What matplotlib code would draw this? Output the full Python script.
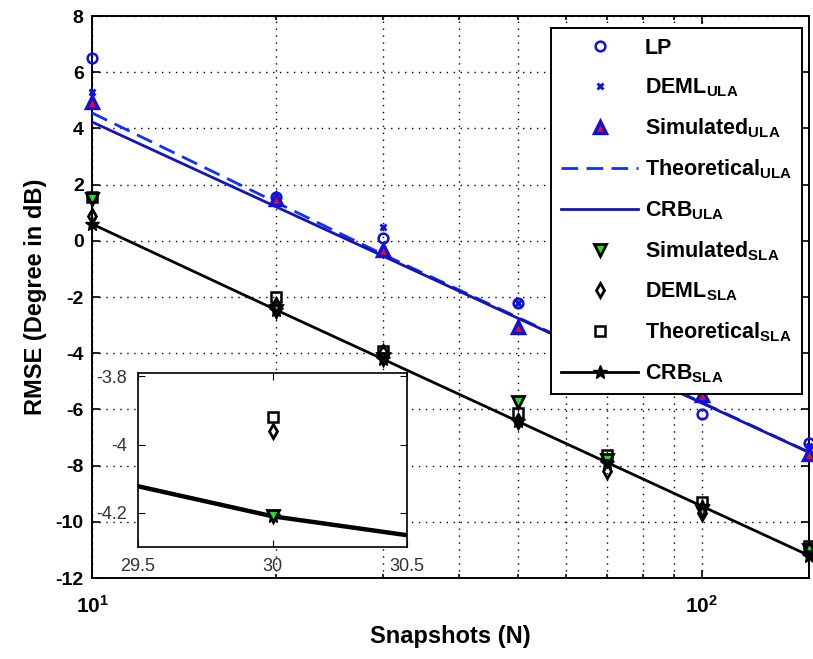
import math
import matplotlib
matplotlib.use("Agg")
import matplotlib.pyplot as plt
from matplotlib.ticker import FixedLocator, FuncFormatter, NullFormatter

plt.rcParams['font.family'] = ['Liberation Sans', 'DejaVu Sans']
plt.rcParams['mathtext.fontset'] = 'custom'
plt.rcParams['mathtext.rm'] = 'Liberation Sans:bold'
plt.rcParams['mathtext.bf'] = 'Liberation Sans:bold'
plt.rcParams['mathtext.it'] = 'Liberation Sans:bold'
plt.rcParams['axes.unicode_minus'] = False

# Number of snapshots
snapshots = [10, 20, 30, 50, 70, 100, 150]

# ULA results (dB)
lp_ula = [6.5, 1.55, 0.1, -2.2, -4.4, -6.15, -7.2]
deml_ula = [5.3, 1.6, 0.5, -2.2, -4.3, -5.6, -7.3]
sim_ula = [4.95, 1.5, -0.33, -3.05, -4.3, -5.5, -7.6]
theo_ula = [4.55, 1.38, -0.48, -2.73, -4.2, -5.75, -7.52]
crb_ula = [4.23, 1.22, -0.54, -2.76, -4.22, -5.77, -7.53]

# SLA results (dB)
sim_sla = [1.5, -2.5, -4.21, -5.74, -7.8, -9.6, -11.0]
deml_sla = [0.9, -2.3, -3.96, -6.4, -8.2, -9.7, -10.95]
theo_sla = [1.55, -2.0, -3.92, -6.13, -7.62, -9.3, -10.85]
crb_sla = [0.6, -2.45, -4.21, -6.43, -7.89, -9.44, -11.2]

y_ticks = [-12, -10, -8, -6, -4, -2, 0, 2, 4, 6, 8]
inset_xticks = [29.5, 30, 30.5]
inset_yticks = [-4.2, -4, -3.8]

fig = plt.figure(figsize=(8.13, 6.59), dpi=100)
ax = fig.add_axes([0.1132, 0.1229, 0.8819, 0.8528])


def draw_series(a, clip):
    a.plot(snapshots, lp_ula, linestyle='none', marker='o', ms=7, mfc='none',
           mec='#1010e0', mew=1.8, label='LP', clip_on=clip, zorder=4)
    a.plot(snapshots, deml_ula, linestyle='none', marker='x', ms=5,
           mec='#1010e0', mew=2, label='DEML$_{\\mathregular{ULA}}$', clip_on=clip, zorder=4)
    a.plot(snapshots, sim_ula, linestyle='none', marker='^', ms=8, mfc='#e01020',
           mec='#1010e0', mew=2.4, label='Simulated$_{\\mathregular{ULA}}$', clip_on=clip, zorder=4)
    a.plot(snapshots, theo_ula, linestyle=(0, (6, 3)), color='#1030ff', lw=2,
           label='Theoretical$_{\\mathregular{ULA}}$', zorder=3)
    a.plot(snapshots, crb_ula, linestyle='-', color='#1414b4', lw=2,
           label='CRB$_{\\mathregular{ULA}}$', zorder=3)
    a.plot(snapshots, sim_sla, linestyle='none', marker='v', ms=8, mfc='#20e020',
           mec='black', mew=2, label='Simulated$_{\\mathregular{SLA}}$', clip_on=clip, zorder=4)
    a.plot(snapshots, deml_sla, linestyle='none', marker='d', ms=7, mfc='none',
           mec='black', mew=2, label='DEML$_{\\mathregular{SLA}}$', clip_on=clip, zorder=4)
    a.plot(snapshots, theo_sla, linestyle='none', marker='s', ms=7, mfc='none',
           mec='black', mew=1.8, label='Theoretical$_{\\mathregular{SLA}}$', clip_on=clip, zorder=4)
    a.plot(snapshots, crb_sla, linestyle='-', color='black', lw=2, marker='*', ms=10,
           mfc='black', mec='black', label='CRB$_{\\mathregular{SLA}}$', clip_on=clip, zorder=3)


draw_series(ax, False)

ax.set_xscale('log')
ax.set_xlim(10, 150)
ax.set_ylim(-12, 8)
ax.yaxis.set_major_locator(FixedLocator(y_ticks))
ax.xaxis.set_major_locator(FixedLocator([10, 100]))
ax.xaxis.set_major_formatter(FuncFormatter(
    lambda v, p: r'$\mathbf{10^{%d}}$' % round(math.log10(v))))
ax.xaxis.set_minor_formatter(NullFormatter())

ax.grid(True, which='both', linestyle=(0, (1, 4)), color='black', lw=1.0)
ax.tick_params(which='both', direction='in', top=True, right=True, width=1.2)
ax.tick_params(which='major', length=6, labelsize=14, pad=6)
ax.tick_params(axis='x', which='major', labelsize=15, pad=12)
ax.tick_params(which='minor', length=3)
for lbl in ax.get_yticklabels():
    lbl.set_fontweight('bold')
for sp in ax.spines.values():
    sp.set_linewidth(1.4)

ax.set_xlabel('Snapshots (N)', fontsize=17, fontweight='bold', labelpad=6)
ax.set_ylabel('RMSE (Degree in dB)', fontsize=17, fontweight='bold', labelpad=6)

leg = ax.legend(loc='upper right', bbox_to_anchor=(0.990, 0.9786), borderaxespad=0,
                prop={'weight': 'bold', 'size': 15.5}, frameon=True, fancybox=False,
                edgecolor='black', framealpha=1, handlelength=3.6, handletextpad=0.3,
                labelspacing=0.82, borderpad=0.45)
leg.get_frame().set_linewidth(1.4)
leg.set_zorder(10)

# zoomed view around N = 30
axi = fig.add_axes([0.1697, 0.170, 0.331, 0.264])
draw_series(axi, True)
axi.set_xlim(29.5, 30.5)
axi.set_ylim(-4.3, -3.79)
axi.xaxis.set_major_locator(FixedLocator(inset_xticks))
axi.yaxis.set_major_locator(FixedLocator(inset_yticks))
axi.xaxis.set_major_formatter(FuncFormatter(lambda v, p: ('%g' % v)))
axi.yaxis.set_major_formatter(FuncFormatter(lambda v, p: ('%g' % v)))
axi.tick_params(direction='in', top=True, right=True, length=5, labelsize=13,
                labelcolor='#333333', pad=8)
for ln in axi.get_lines():
    if ln.get_linestyle() == '-':
        ln.set_linewidth(3.2)
for sp in axi.spines.values():
    sp.set_linewidth(1.2)

fig.savefig('out.png', dpi=100)
